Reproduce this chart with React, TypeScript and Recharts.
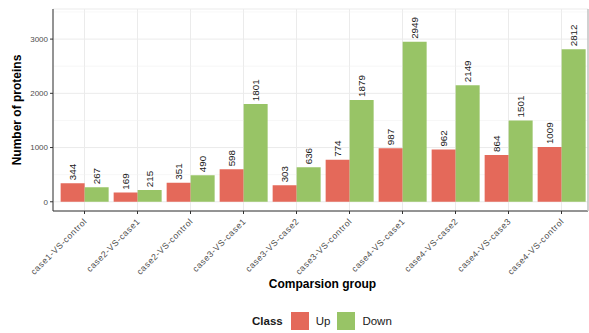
import {
  Bar,
  BarChart,
  CartesianGrid,
  Label,
  LabelList,
  Legend,
  XAxis,
  YAxis,
} from "recharts";

const groups = [
  "case1-VS-control",
  "case2-VS-case1",
  "case2-VS-control",
  "case3-VS-case1",
  "case3-VS-case2",
  "case3-VS-control",
  "case4-VS-case1",
  "case4-VS-case2",
  "case4-VS-case3",
  "case4-VS-control",
];
const upCounts = [344, 169, 351, 598, 303, 774, 987, 962, 864, 1009];
const downCounts = [267, 215, 490, 1801, 636, 1879, 2949, 2149, 1501, 2812];
const yTicks = [0, 1000, 2000, 3000];
const minorTicks = [500, 1500, 2500, 3500];

const UP = "#e4695a";
const DOWN = "#98c466";
const FONT = "'Liberation Sans', Arial, sans-serif";

const data = groups.map((group, i) => ({
  group,
  Up: upCounts[i],
  Down: downCounts[i],
}));

// value printed vertically just above each bar
const renderValue = (props: any) => {
  const { x, y, width, value } = props;
  const cx = Number(x) + Number(width) / 2;
  const ty = Number(y) - 3;
  return (
    <text
      x={cx}
      y={ty}
      transform={`rotate(-90 ${cx} ${ty})`}
      textAnchor="start"
      dominantBaseline="central"
      fontSize={9.8}
      fontFamily={FONT}
      fill="#1a1a1a"
    >
      {value}
    </text>
  );
};

const GroupTick = (props: any) => {
  const { x, y, payload } = props;
  return (
    <text
      x={x + 3}
      y={y + 6}
      transform={`rotate(-45 ${x + 3} ${y + 6})`}
      textAnchor="end"
      fontSize={8.7}
      letterSpacing={0.55}
      fontFamily={FONT}
      fill="#4d4d4d"
    >
      {payload.value}
    </text>
  );
};

const renderLegend = () => (
  <div
    style={{
      display: "flex",
      alignItems: "center",
      fontFamily: FONT,
      fontSize: 11.5,
      color: "#1a1a1a",
    }}
  >
    <span style={{ fontWeight: "bold", marginRight: 8 }}>Class</span>
    <span style={{ width: 18, height: 18, background: UP, marginRight: 7 }} />
    <span style={{ marginRight: 7 }}>Up</span>
    <span style={{ width: 18, height: 18, background: DOWN, marginRight: 7 }} />
    <span>Down</span>
  </div>
);

const App = () => {
  return (
    <div style={{ position: "fixed", left: 0, top: 0, background: "#fff" }}>
      <BarChart
        width={589}
        height={333}
        data={data}
        margin={{ top: 9, right: 0, left: 0, bottom: 0 }}
        barCategoryGap="5%"
        barGap={0}
      >
        <CartesianGrid stroke="#ebebeb" />
        <CartesianGrid
          stroke="#f2f2f2"
          strokeWidth={0.6}
          vertical={false}
          horizontalValues={minorTicks}
        />
        <XAxis
          dataKey="group"
          interval={0}
          height={122}
          padding={{ left: 5, right: 0 }}
          tick={<GroupTick />}
          tickSize={3}
          tickLine={{ stroke: "#333333" }}
          axisLine={{ stroke: "#333333" }}
        >
          <Label
            value="Comparsion group"
            position="insideTop"
            offset={68}
            dx={2}
            style={{ fontFamily: FONT, fontSize: 12, fontWeight: "bold", fill: "#000" }}
          />
        </XAxis>
        {/* top and right edges of the panel border */}
        <XAxis
          xAxisId="top"
          orientation="top"
          dataKey="group"
          height={0}
          padding={{ left: 5, right: 0 }}
          tick={false}
          tickLine={false}
          axisLine={{ stroke: "#c4c4c4", strokeWidth: 1.5 }}
        />
        <YAxis
          width={53}
          domain={[-170, 3555]}
          allowDataOverflow
          ticks={yTicks}
          tickSize={3}
          tick={{ fontFamily: FONT, fontSize: 8, fill: "#4d4d4d" }}
          tickLine={{ stroke: "#333333" }}
          axisLine={{ stroke: "#333333" }}
        >
          <Label
            value="Number of proteins"
            angle={-90}
            position="insideLeft"
            offset={17}
            style={{
              fontFamily: FONT,
              fontSize: 12,
              fontWeight: "bold",
              fill: "#000",
              textAnchor: "middle",
            }}
          />
        </YAxis>
        <YAxis
          yAxisId="right"
          orientation="right"
          width={1}
          domain={[-170, 3555]}
          allowDataOverflow
          tick={false}
          tickLine={false}
          axisLine={{ stroke: "#c4c4c4", strokeWidth: 1.5 }}
        />
        <Legend
          layout="horizontal"
          verticalAlign="middle"
          align="center"
          wrapperStyle={{ left: 252, top: 312, width: 200, height: 18 }}
          content={renderLegend}
        />
        <Bar dataKey="Up" fill={UP} isAnimationActive={false}>
          <LabelList dataKey="Up" content={renderValue} />
        </Bar>
        <Bar dataKey="Down" fill={DOWN} isAnimationActive={false}>
          <LabelList dataKey="Down" content={renderValue} />
        </Bar>
      </BarChart>
    </div>
  );
};

export default App;
